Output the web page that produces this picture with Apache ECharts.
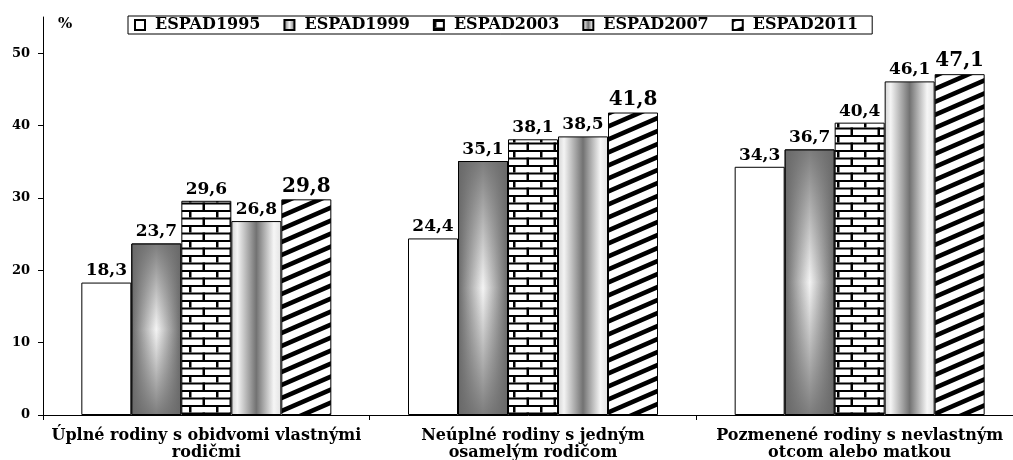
<!DOCTYPE html>
<html>
  <head>
    <meta charset="UTF-8">
    <title>ESPAD</title>
    <script src="https://cdn.jsdelivr.net/npm/echarts@6/dist/echarts.min.js"></script>
    <style>
    * {
      margin: 0;
      padding: 0;
    }
    </style>
  </head>
  <body>
    <div id="main" style="width: 1013px;height: 460px"></div>
    <script>
var categories = [
  'Úplné rodiny s obidvomi vlastnými\nrodičmi',
  'Neúplné rodiny s jedným\nosamelým rodičom',
  'Pozmenené rodiny s nevlastným\notcom alebo matkou'
]
var seriesNames = ['ESPAD1995', 'ESPAD1999', 'ESPAD2003', 'ESPAD2007', 'ESPAD2011']
var espad1995 = [18.3, 24.4, 34.3]
var espad1999 = [23.7, 35.1, 36.7]
var espad2003 = [29.6, 38.1, 40.4]
var espad2007 = [26.8, 38.5, 46.1]
var espad2011 = [29.8, 41.8, 47.1]
var yTicks = [0, 10, 20, 30, 40, 50]

var font = 'DejaVu Serif'

function brickPattern() {
  var c = document.createElement('canvas')
  c.width = 27
  c.height = 15
  var ctx = c.getContext('2d')
  ctx.fillStyle = '#fff'
  ctx.fillRect(0, 0, 27, 15)
  ctx.fillStyle = '#000'
  ctx.fillRect(0, 0, 27, 2)
  ctx.fillRect(0, 7.5, 27, 2)
  ctx.fillRect(0, 0, 2.5, 7.5)
  ctx.fillRect(13.5, 7.5, 2.5, 7.5)
  return c
}

function stripePattern() {
  var c = document.createElement('canvas')
  var w = 30, h = 13
  c.width = w
  c.height = h
  var ctx = c.getContext('2d')
  ctx.fillStyle = '#fff'
  ctx.fillRect(0, 0, w, h)
  ctx.strokeStyle = '#000'
  ctx.lineWidth = 4.6
  for (var k = -1; k <= 1; k++) {
    ctx.beginPath()
    ctx.moveTo(-2, h + k * h + 2 * h / w)
    ctx.lineTo(w + 2, k * h - 2 * h / w)
    ctx.stroke()
  }
  return c
}

var fills = [
  '#fff',
  {
    type: 'linear', x: 0, y: 0, x2: 1, y2: 0,
    colorStops: [
      {offset: 0, color: '#686868'},
      {offset: 0.5, color: '#f4f4f4'},
      {offset: 1, color: '#686868'}
    ]
  },
  {image: brickPattern(), repeat: 'repeat'},
  {
    type: 'linear', x: 0, y: 0, x2: 1, y2: 0,
    colorStops: [
      {offset: 0, color: '#d4d4d4'},
      {offset: 0.12, color: '#f4f4f4'},
      {offset: 0.5, color: '#727272'},
      {offset: 0.85, color: '#f6f6f6'},
      {offset: 1, color: '#e2e2e2'}
    ]
  },
  {image: stripePattern(), repeat: 'repeat'}
]

// darkens top and bottom of the 1999 bars so the light spot sits in the middle
var shade1999 = {
  type: 'linear', x: 0, y: 0, x2: 0, y2: 1,
  colorStops: [
    {offset: 0, color: 'rgba(104,104,104,0.85)'},
    {offset: 0.5, color: 'rgba(104,104,104,0)'},
    {offset: 1, color: 'rgba(104,104,104,0.85)'}
  ]
}

var values = [espad1995, espad1999, espad2003, espad2007, espad2011]

var myChart = echarts.init(document.getElementById('main'))

var series = seriesNames.map(function(name, i) {
  return {
    name: name,
    type: 'bar',
    data: values[i],
    barWidth: 50,
    barGap: '0%',
    itemStyle: {
      color: fills[i],
      borderColor: '#000',
      borderWidth: 1
    },
    label: {
      show: true,
      position: 'top',
      distance: 3,
      fontFamily: font,
      fontWeight: 'bold',
      fontSize: i === 4 ? 20 : 17,
      color: '#000',
      formatter: function(p) {
        return p.value.toFixed(1).replace('.', ',')
      }
    }
  }
})

// overlay layer on a hidden twin axis, same slots as above
seriesNames.forEach(function(name, i) {
  series.push({
    type: 'bar',
    xAxisIndex: 1,
    data: i === 1 ? values[i] : [],
    barWidth: 50,
    barGap: '0%',
    silent: true,
    z: 3,
    itemStyle: {color: shade1999, borderColor: '#000', borderWidth: 1}
  })
})

var option = {
  backgroundColor: '#fff',
  animation: false,
  textStyle: {fontFamily: font},
  legend: {
    data: seriesNames,
    left: 128,
    top: 16,
    padding: [1, 14, 1, 6],
    itemGap: 23,
    itemWidth: 10,
    itemHeight: 10,
    icon: 'rect',
    borderColor: '#000',
    borderWidth: 1,
    textStyle: {
      fontFamily: font,
      fontWeight: 'bold',
      fontSize: 16,
      color: '#000',
      padding: [0, 0, 0, 5]
    }
  },
  grid: {
    left: 43,
    right: -10,
    top: 17,
    bottom: 45,
    outerBoundsMode: 'none'
  },
  xAxis: [{
    type: 'category',
    data: categories,
    axisLine: {lineStyle: {color: '#000', width: 1}},
    axisTick: {show: true, length: 5, lineStyle: {color: '#000'}},
    axisLabel: {
      interval: 0,
      margin: 12,
      color: '#000',
      fontFamily: font,
      fontWeight: 'bold',
      fontSize: 16,
      lineHeight: 17
    }
  }, {
    type: 'category',
    data: categories,
    show: false
  }],
  yAxis: {
    type: 'value',
    min: 0,
    max: 55,
    interval: 10,
    name: '%',
    nameLocation: 'end',
    nameGap: 0,
    nameTextStyle: {
      align: 'left',
      verticalAlign: 'top',
      padding: [0, 0, 0, 15],
      fontFamily: font,
      fontWeight: 'bold',
      fontSize: 15,
      color: '#000'
    },
    splitLine: {show: false},
    axisLine: {show: true, lineStyle: {color: '#000', width: 1}},
    axisTick: {show: true, length: 5, customValues: yTicks, lineStyle: {color: '#000'}},
    axisLabel: {
      margin: 13,
      customValues: yTicks,
      color: '#000',
      fontFamily: font,
      fontWeight: 'bold',
      fontSize: 13
    }
  },
  series: series
}
myChart.setOption(option)
    </script>
  </body>
</html>
